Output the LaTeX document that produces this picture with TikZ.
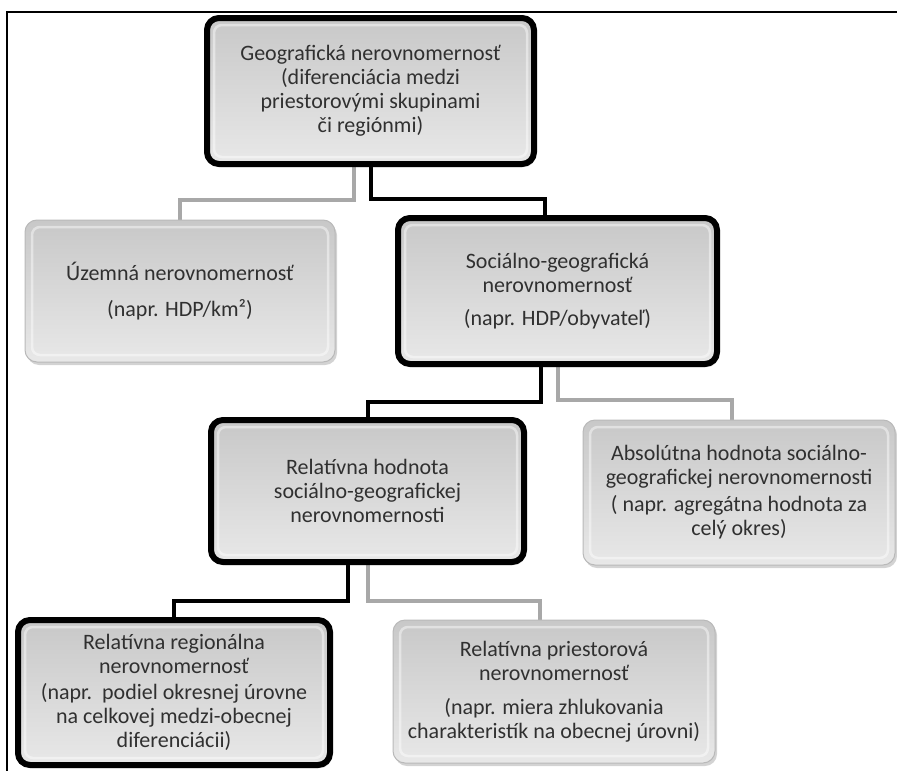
\documentclass[tikz,border=0pt]{standalone}
\usepackage{fontspec}
\setmainfont{Carlito}
\usetikzlibrary{calc,shadows}
\pgfdeclarelayer{background}
\pgfsetlayers{background,main}
\definecolor{txt}{HTML}{303030}
\definecolor{conngray}{HTML}{A8A8A8}
\definecolor{boxtop}{HTML}{C8C8C8}
\definecolor{boxbot}{HTML}{E8E8E8}
\tikzset{
  box/.style={rectangle, rounded corners=12pt, align=center, inner sep=0pt,
    top color=boxtop, bottom color=boxbot, text=txt,
    font=\fontsize{22}{24}\selectfont,
    drop shadow={shadow xshift=2pt, shadow yshift=-3pt, opacity=0.35, fill=gray},
    path picture={\draw[white, opacity=0.45, line width=2.5pt, rounded corners=8pt]
      ([shift={(7pt,7pt)}]path picture bounding box.south west) rectangle
      ([shift={(-7pt,-7pt)}]path picture bounding box.north east);}},
  hibox/.style={box, draw=black, line width=6pt},
  lobox/.style={box, draw=gray!55, line width=1pt},
  blackcon/.style={draw=black, line width=4pt},
  graycon/.style={draw=conngray, line width=4pt},
  frameline/.style={draw=black, line width=1.3pt}
}
\begin{document}
\begin{tikzpicture}[x=1pt,y=-1pt]
\useasboundingbox (0,0) rectangle (897,771);
\draw[frameline] (7,11) -- (7,771);
\draw[frameline] (6.4,12) -- (897,12);

\node[hibox, minimum width=327pt, minimum height=146pt] (geo) at (370.5,91)
  {Geografická nerovnomernosť\\(diferenciácia medzi\\priestorovými skupinami\\či regiónmi)};
\node[lobox, minimum width=310pt, minimum height=142pt] (uzem) at (180,291)
  {Územná nerovnomernosť\\[12pt](napr. HDP/km²)};
\node[hibox, minimum width=319pt, minimum height=146pt] (soc) at (557.5,291)
  {Sociálno-geografická\\nerovnomernosť\\[9pt](napr. HDP/obyvateľ)};
\node[lobox, minimum width=312pt, minimum height=145pt] (abs) at (739,492.5)
  {Absolútna hodnota sociálno-\\geografickej nerovnomernosti\\[3pt]( napr. agregátna hodnota za\\celý okres)};
\node[hibox, minimum width=313pt, minimum height=142pt] (relh) at (367.5,491)
  {Relatívna hodnota\\sociálno-geografickej\\nerovnomernosti};
\node[hibox, minimum width=312pt, minimum height=145pt] (relreg) at (174,692.5)
  {Relatívna regionálna\\nerovnomernosť\\[2pt](napr.\ \ podiel okresnej úrovne\\na celkovej medzi-obecnej\\diferenciácii)};
\node[lobox, minimum width=322pt, minimum height=143pt] (relp) at (554,691.5)
  {Relatívna priestorová\\nerovnomernosť\\[10pt](napr. miera zhlukovania\\charakteristík na obecnej úrovni)};

\begin{pgfonlayer}{background}
\draw[graycon] ($(geo.south)+(-17,0)$) -- ++(0,33) -| (uzem.north);
\draw[blackcon] (geo.south) -- ++(0,32) -| ($(soc.north)+(-13,0)$);
\draw[blackcon] ($(soc.south)+(-17,0)$) -- ++(0,35) -| (relh.north);
\draw[graycon] (soc.south) -- ++(0,33) -| ($(abs.north)+(-7,0)$);
\draw[blackcon] ($(relh.south)+(-20,0)$) -- ++(0,36) -| (relreg.north);
\draw[graycon] (relh.south) -- ++(0,36) -| ($(relp.north)+(-14,0)$);
\end{pgfonlayer}
\end{tikzpicture}
\end{document}
